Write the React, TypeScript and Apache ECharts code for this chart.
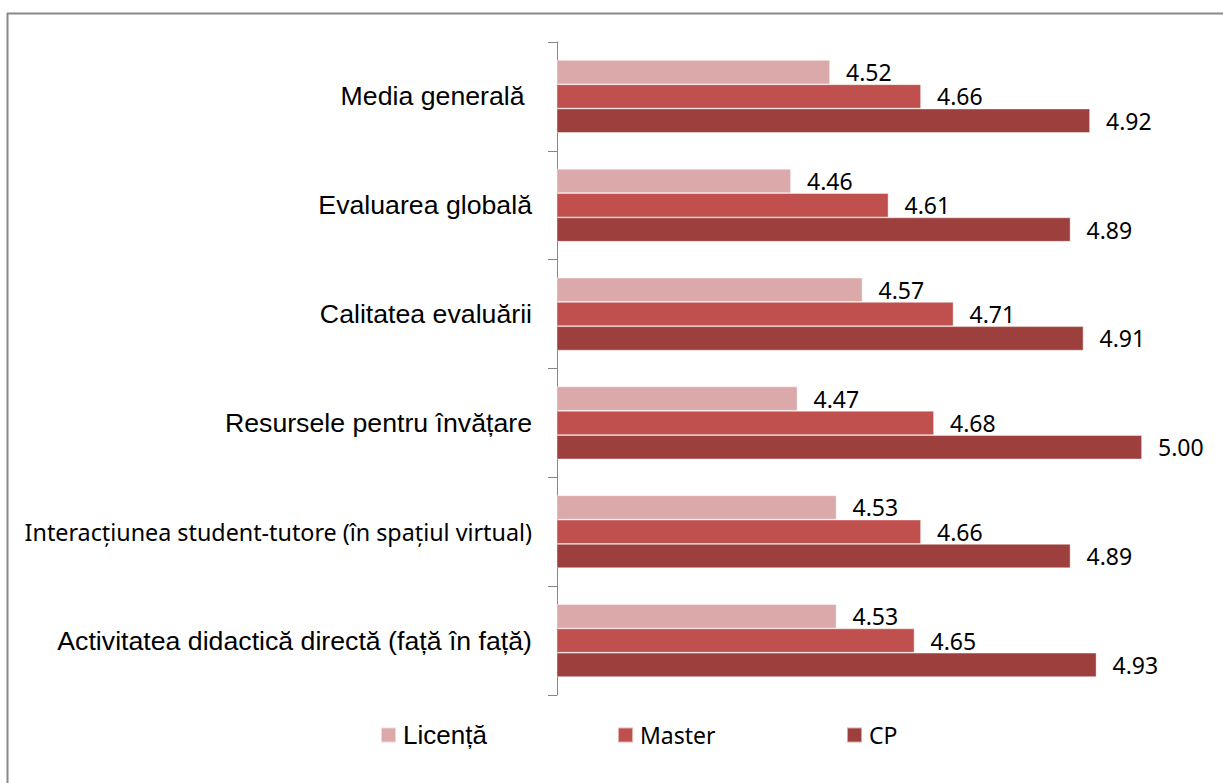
import React, { useEffect, useRef } from "react";
import * as echarts from "echarts";

const categories = [
  "Media generală ",
  "Evaluarea globală",
  "Calitatea evaluării",
  "Resursele pentru învățare",
  "Interacțiunea student-tutore (în spațiul virtual)",
  "Activitatea didactică directă (față în față)",
];
const licenta = [4.52, 4.46, 4.57, 4.47, 4.53, 4.53];
const master = [4.66, 4.61, 4.71, 4.68, 4.66, 4.65];
const cp = [4.92, 4.89, 4.91, 5.0, 4.89, 4.93];
const seriesNames = ["Licență", "Master", "CP"];
const colors = ["#DBA9AA", "#C0504D", "#9D403D"];

const ARIAL = "'Liberation Sans', Arial, sans-serif";
const CAL = "'Noto Sans', sans-serif";

export default function App() {
  const ref = useRef<HTMLDivElement>(null);
  useEffect(() => {
    if (!ref.current) return;
    const chart = echarts.init(ref.current, undefined, { renderer: "svg" });
    const values = [licenta, master, cp];
    const legendLefts = [380, 617, 846];
    chart.setOption({
      animation: false,
      backgroundColor: "#ffffff",
      grid: { left: 557, top: 42, width: 650, height: 653, containLabel: false },
      xAxis: {
        type: "value",
        min: 4.1,
        max: 5.1,
        show: false,
        splitLine: { show: false },
      },
      yAxis: {
        type: "category",
        inverse: true,
        data: categories.map((c, i) =>
          i === 4
            ? { value: c, textStyle: { fontFamily: CAL, fontSize: 23.3 } }
            : { value: c }
        ),
        axisLine: { show: true, lineStyle: { color: "#868686", width: 1 } },
        axisTick: { show: true, length: 9, lineStyle: { color: "#868686", width: 1 } },
        axisLabel: {
          margin: 25,
          color: "#000000",
          fontFamily: ARIAL,
          fontSize: 26.7,
        },
      },
      legend: seriesNames.map((n, i) => ({
        data: [n],
        left: legendLefts[i],
        top: 720,
        itemWidth: 15,
        itemHeight: 15,
        icon: "rect",
        padding: 0,
        textStyle: {
          fontFamily: i === 0 ? ARIAL : CAL,
          fontSize: i === 0 ? 26 : 23,
          color: "#000000",
          lineHeight: 30,
          padding: [0, 0, 0, 2],
        },
      })),
      graphic: [
        {
          type: "line",
          shape: { x1: 7, y1: 13.5, x2: 1223, y2: 13.5 },
          style: { stroke: "#888888", lineWidth: 2 },
          silent: true,
        },
        {
          type: "line",
          shape: { x1: 7.5, y1: 13, x2: 7.5, y2: 783 },
          style: { stroke: "#888888", lineWidth: 2 },
          silent: true,
        },
      ],
      series: seriesNames.map((n, i) => ({
        name: n,
        type: "bar",
        data: values[i],
        barWidth: 24.3,
        barGap: "0%",
        itemStyle: {
          color: colors[i],
          borderColor: "rgba(255,255,255,0.55)",
          borderWidth: 0.75,
        },
        label: {
          show: true,
          position: "right",
          distance: 16,
          formatter: (p: any) => Number(p.value).toFixed(2),
          fontFamily: CAL,
          fontSize: 23,
          color: "#000000",
        },
      })),
    });
    return () => chart.dispose();
  }, []);
  return (
    <div
      ref={ref}
      style={{ position: "fixed", left: 0, top: 0, width: 1223, height: 783 }}
    />
  );
}
